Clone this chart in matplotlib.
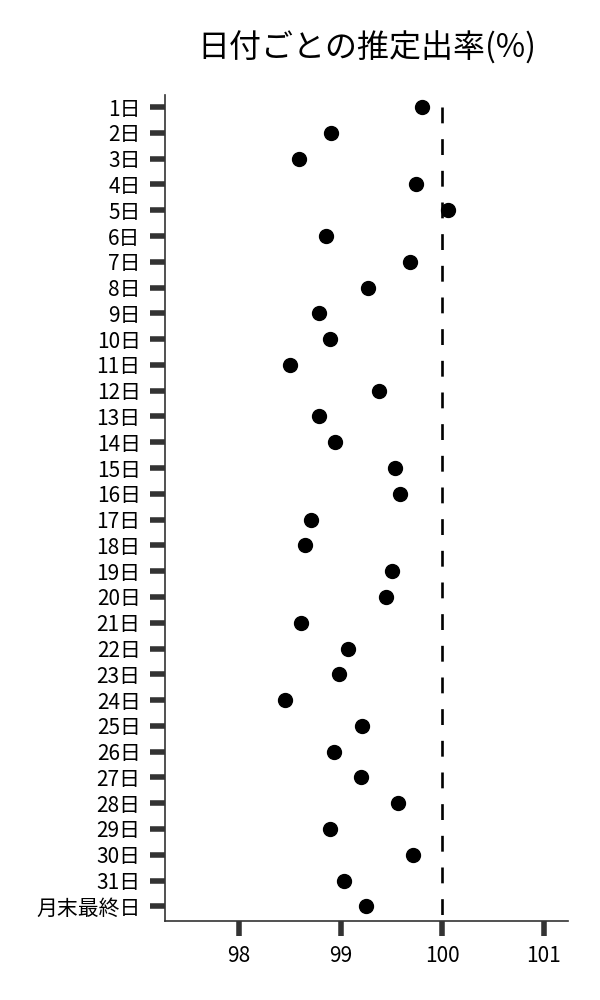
#Dot plot of estimated payout rate per day of month
import numpy as np
import matplotlib
matplotlib.use('Agg')
import matplotlib.pyplot as plt

plt.rcParams['font.family'] = ['Noto Sans CJK JP', 'DejaVu Sans']

#categories and values
days = [str(d) + '日' for d in range(1, 32)] + ['月末最終日']
rates = [99.80, 98.90, 98.59, 99.74, 100.06, 98.86, 99.68, 99.27, 98.79, 98.89,
         98.50, 99.38, 98.79, 98.94, 99.53, 99.58, 98.71, 98.65, 99.51, 99.45,
         98.61, 99.07, 98.98, 98.45, 99.21, 98.93, 99.20, 99.56, 98.89, 99.71,
         99.03, 99.25]
xticks = [98, 99, 100, 101]
ref_rate = 100

fig = plt.figure(figsize=(6, 10), dpi=100)
ax = fig.add_axes([0.275, 0.079, 0.672, 0.826])

ypos = np.arange(len(days))
ax.plot(rates, ypos, 'o', color='black', markersize=10, zorder=3)
#reference line from the first row down past the axis
ax.plot([ref_rate, ref_rate], [0, len(days) + 1], color='black', lw=1.9,
        linestyle=(0, (6.0, 6.0)), zorder=2)

ax.set_xlim(97.27, 101.24)
ax.set_ylim(31.57, -0.47)
ax.set_yticks(ypos)
ax.set_yticklabels(days)
ax.set_xticks(xticks)
ax.set_xticklabels([str(x) for x in xticks])

for side in ['top', 'right']:
    ax.spines[side].set_visible(False)
for side in ['left', 'bottom']:
    ax.spines[side].set_color('#333333')
    ax.spines[side].set_linewidth(1.2)
ax.tick_params(axis='both', direction='out', length=10.5, width=4, color='#333333',
               labelsize=15, pad=7, labelcolor='black')

ax.set_title('日付ごとの推定出率(%)', fontsize=23, pad=27)

fig.savefig('out.png', dpi=100)
plt.close()
